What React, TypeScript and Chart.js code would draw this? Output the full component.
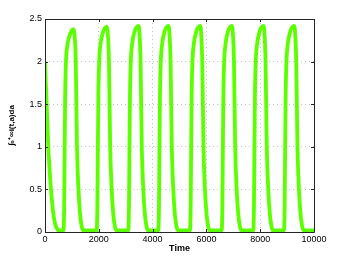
import React, { useEffect, useRef } from "react";
import { Chart, registerables } from "chart.js";

Chart.register(...registerables);

// Time (x) values
const timePoints: number[] = [
  0, 37, 74, 123, 167, 223, 297, 372, 446, 490,
  687, 713, 732, 750, 780, 836, 910, 985, 1059, 1096, 1144, 1189, 1245, 1301, 1356, 1412,
  1921, 1947, 1966, 1984, 2014, 2070, 2144, 2219, 2293, 2330, 2378, 2423, 2479, 2535, 2590, 2646,
  3096, 3122, 3141, 3159, 3189, 3245, 3319, 3394, 3468, 3505, 3553, 3598, 3654, 3710, 3765, 3821,
  4211, 4237, 4256, 4274, 4304, 4360, 4434, 4509, 4583, 4620, 4668, 4713, 4769, 4825, 4880, 4936,
  5389, 5415, 5434, 5452, 5482, 5538, 5612, 5687, 5761, 5798, 5846, 5891, 5947, 6003, 6058, 6114,
  6568, 6594, 6613, 6631, 6661, 6717, 6791, 6866, 6940, 6977, 7025, 7070, 7126, 7182, 7237, 7293,
  7742, 7768, 7787, 7805, 7835, 7891, 7965, 8040, 8114, 8151, 8199, 8244, 8300, 8356, 8411, 8467,
  8883, 8909, 8928, 8946, 8976, 9032, 9106, 9181, 9255, 9292, 9340, 9385, 9441, 9497, 9552, 9608,
  10000,
];

// Integral values (y)
const integralValues: number[] = [
  2.0, 1.7, 1.4, 1.0, 0.75, 0.5, 0.25, 0.1, 0.04, 0.02,
  0.02, 0.3, 1.0, 1.6, 2.0, 2.2, 2.3, 2.36, 2.38, 2.32, 2.0, 1.0, 0.5, 0.22, 0.08, 0.02,
  0.02, 0.3, 1.0, 1.6, 2.0, 2.22, 2.33, 2.39, 2.41, 2.35, 2.0, 1.0, 0.5, 0.22, 0.08, 0.02,
  0.02, 0.3, 1.0, 1.6, 2.0, 2.22, 2.34, 2.4, 2.42, 2.36, 2.0, 1.0, 0.5, 0.22, 0.08, 0.02,
  0.02, 0.3, 1.0, 1.6, 2.0, 2.22, 2.34, 2.4, 2.42, 2.36, 2.0, 1.0, 0.5, 0.22, 0.08, 0.02,
  0.02, 0.3, 1.0, 1.6, 2.0, 2.22, 2.34, 2.4, 2.42, 2.36, 2.0, 1.0, 0.5, 0.22, 0.08, 0.02,
  0.02, 0.3, 1.0, 1.6, 2.0, 2.22, 2.34, 2.4, 2.42, 2.36, 2.0, 1.0, 0.5, 0.22, 0.08, 0.02,
  0.02, 0.3, 1.0, 1.6, 2.0, 2.22, 2.34, 2.4, 2.42, 2.36, 2.0, 1.0, 0.5, 0.22, 0.08, 0.02,
  0.02, 0.3, 1.0, 1.6, 2.0, 2.22, 2.34, 2.4, 2.42, 2.36, 2.0, 1.0, 0.5, 0.22, 0.08, 0.02,
  0.02,
];

const xTicks: number[] = [0, 2000, 4000, 6000, 8000, 10000];
const yTicks: number[] = [0, 0.5, 1, 1.5, 2, 2.5];

const xTitle = "Time";
const yTitle = "∫₀⁺∞i(t,a)da";

const FONT = "'Liberation Sans', Arial, Helvetica, sans-serif";

const boxPlugin = {
  id: "matlabBox",
  afterDraw(chart: any) {
    const { ctx, chartArea } = chart;
    const { left, right, top, bottom } = chartArea;
    const xs = chart.scales.x;
    const ys = chart.scales.y;
    ctx.save();
    ctx.strokeStyle = "#262626";
    ctx.lineWidth = 1;
    ctx.beginPath();
    ctx.rect(Math.round(left) + 0.5, Math.round(top) + 0.5, Math.round(right - left), Math.round(bottom - top));
    ctx.stroke();
    const tl = 3;
    ctx.beginPath();
    xTicks.forEach((v) => {
      const px = Math.round(xs.getPixelForValue(v)) + 0.5;
      ctx.moveTo(px, bottom);
      ctx.lineTo(px, bottom - tl);
      ctx.moveTo(px, top);
      ctx.lineTo(px, top + tl);
    });
    yTicks.forEach((v) => {
      const py = Math.round(ys.getPixelForValue(v)) + 0.5;
      ctx.moveTo(left, py);
      ctx.lineTo(left + tl, py);
      ctx.moveTo(right, py);
      ctx.lineTo(right - tl, py);
    });
    ctx.stroke();
    ctx.restore();
  },
};

export default function App() {
  const canvasRef = useRef<HTMLCanvasElement | null>(null);

  useEffect(() => {
    document.body.style.margin = "0";
    const canvas = canvasRef.current;
    if (!canvas) return;
    const data = timePoints.map((t, i) => ({ x: t, y: integralValues[i] }));
    const gridColor = (edgeA: number, edgeB: number) => (c: any) =>
      c.tick && (c.tick.value === edgeA || c.tick.value === edgeB) ? "rgba(0,0,0,0)" : "#c4c4c4";
    const chart = new Chart(canvas, {
      type: "line",
      data: {
        datasets: [
          {
            data,
            borderColor: "#5CFF00",
            borderWidth: 3.8,
            pointRadius: 0,
            fill: false,
            cubicInterpolationMode: "monotone",
          } as any,
        ],
      },
      options: {
        responsive: false,
        animation: false,
        devicePixelRatio: 1,
        layout: { padding: { left: 0, right: 32, top: 19, bottom: 0 } },
        plugins: {
          legend: { display: false },
          tooltip: { enabled: false },
        },
        scales: {
          x: {
            type: "linear",
            min: 0,
            max: 10000,
            afterBuildTicks: (scale: any) => {
              scale.ticks = xTicks.map((v) => ({ value: v }));
            },
            afterFit: (scale: any) => {
              scale.height = 28;
            },
            ticks: {
              font: { family: FONT, size: 9 },
              color: "#000",
              padding: 2,
              maxRotation: 0,
              callback: (v: any) => String(v),
            },
            grid: {
              drawTicks: false,
              color: gridColor(0, 10000),
              lineWidth: 1,
            },
            border: { display: false, dash: [1, 3] },
            title: {
              display: true,
              text: xTitle,
              font: { family: FONT, size: 9, weight: "bold" },
              color: "#000",
              padding: { top: 0, bottom: 6 },
            },
          },
          y: {
            type: "linear",
            min: 0,
            max: 2.5,
            afterBuildTicks: (scale: any) => {
              scale.ticks = yTicks.map((v) => ({ value: v }));
            },
            afterFit: (scale: any) => {
              scale.width = 45;
            },
            ticks: {
              font: { family: FONT, size: 9 },
              color: "#000",
              padding: 3,
              callback: (v: any) => String(v),
            },
            grid: {
              drawTicks: false,
              color: gridColor(0, 2.5),
              lineWidth: 1,
            },
            border: { display: false, dash: [1, 3] },
            title: {
              display: true,
              text: yTitle,
              font: { family: FONT, size: 8, weight: "bold" },
              color: "#000",
              padding: { top: 7, bottom: 0 },
            },
          },
        },
      },
      plugins: [boxPlugin],
    });
    return () => chart.destroy();
  }, []);

  return (
    <div style={{ position: "absolute", left: 0, top: 0, width: 346, height: 260, background: "#fff" }}>
      <canvas ref={canvasRef} width={346} height={260} style={{ width: 346, height: 260, display: "block" }} />
    </div>
  );
}
